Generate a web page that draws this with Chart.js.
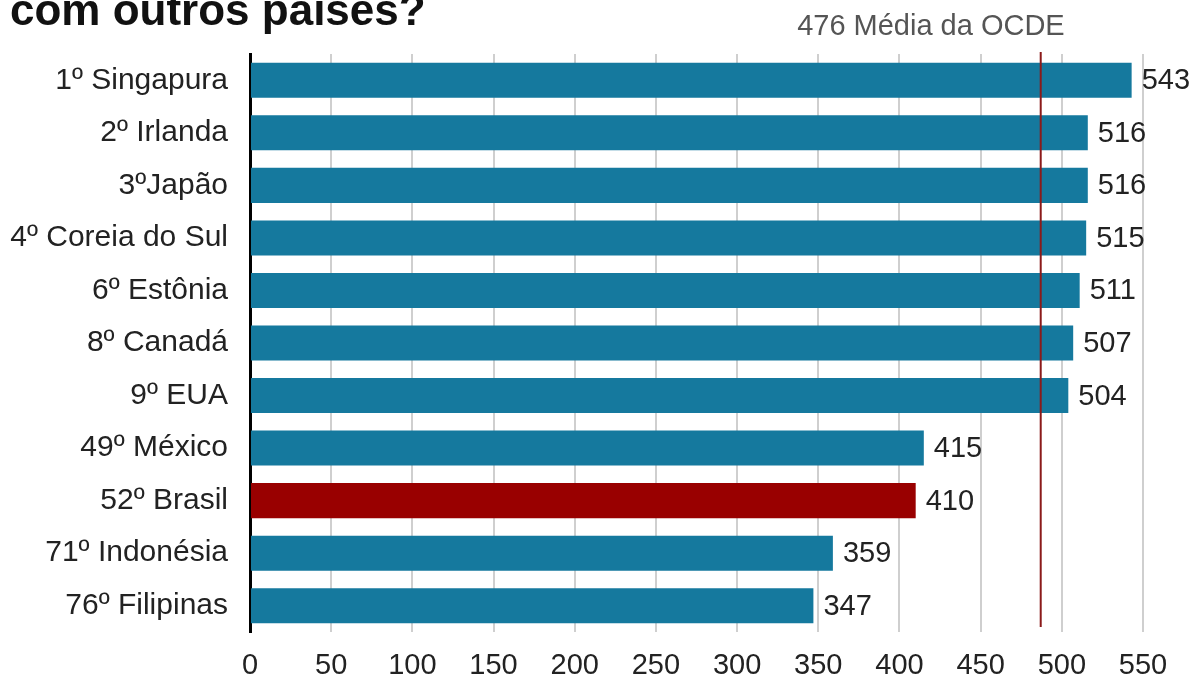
<!DOCTYPE html>
<html lang="pt">
<head>
    <meta charset="UTF-8">
    <title>PISA - comparação com outros países</title>
    <script src="https://cdn.jsdelivr.net/npm/chart.js"></script>
    <style>
        body { margin: 0; background: #fff; }
        #wrap { width: 1203px; height: 681px; }
    </style>
</head>
<body>
<div id="wrap">
    <canvas id="pisaChart" width="1203" height="681"></canvas>
</div>
<script>
    const paises = ["1º Singapura", "2º Irlanda", "3ºJapão", "4º Coreia do Sul", "6º Estônia",
        "8º Canadá", "9º EUA", "49º México", "52º Brasil", "71º Indonésia", "76º Filipinas"];
    const notas = [543, 516, 516, 515, 511, 507, 504, 415, 410, 359, 347];
    const ticksX = [0, 50, 100, 150, 200, 250, 300, 350, 400, 450, 500, 550];
    const mediaOcde = 476;
    // a linha da média aparece um pouco mais à direita no gráfico original
    const mediaOcdeLinha = 487;

    const azul = "#15799e";
    const vermelho = "#990000";
    const corBarras = paises.map(p => p.includes("Brasil") ? vermelho : azul);

    const extras = {
        id: "extras",
        afterDatasetsDraw(chart) {
            const ctx = chart.ctx;
            const area = chart.chartArea;
            const x = chart.scales.x;

            // linha da média
            const xl = x.getPixelForValue(mediaOcdeLinha);
            ctx.save();
            ctx.strokeStyle = "#8b1a1a";
            ctx.lineWidth = 2;
            ctx.beginPath();
            ctx.moveTo(xl, area.top - 2);
            ctx.lineTo(xl, area.bottom - 5);
            ctx.stroke();

            ctx.font = "29px Arial, 'Liberation Sans', sans-serif";
            ctx.fillStyle = "#555";
            ctx.textAlign = "right";
            ctx.textBaseline = "alphabetic";
            ctx.fillText(mediaOcde + " Média da OCDE", xl + 24, 35);

            // valores
            ctx.fillStyle = "#222";
            ctx.textAlign = "left";
            ctx.textBaseline = "middle";
            chart.getDatasetMeta(0).data.forEach((bar, i) => {
                ctx.fillText(notas[i], bar.x + 10, bar.y + 1);
            });

            // título
            ctx.font = "bold 44px Arial, 'Liberation Sans', sans-serif";
            ctx.fillStyle = "#111";
            ctx.textBaseline = "alphabetic";
            ctx.fillText("com outros países?", 10, 25);
            ctx.restore();
        }
    };

    new Chart(document.getElementById("pisaChart"), {
        type: "bar",
        data: {
            labels: paises,
            datasets: [{
                data: notas,
                backgroundColor: corBarras,
                categoryPercentage: 1,
                barPercentage: 0.667
            }]
        },
        options: {
            indexAxis: "y",
            responsive: false,
            animation: false,
            layout: { padding: { top: 54, right: 60, left: 0, bottom: 0 } },
            plugins: { legend: { display: false }, tooltip: { enabled: false } },
            scales: {
                x: {
                    min: 0,
                    max: 550,
                    afterFit: s => { s.height = 49; },
                    afterBuildTicks: s => { s.ticks = ticksX.map(v => ({ value: v })); },
                    grid: { color: "#cfcfcf", lineWidth: 2, drawTicks: false },
                    border: { display: false },
                    ticks: {
                        padding: 17,
                        color: "#222",
                        font: { family: "Arial, 'Liberation Sans', sans-serif", size: 29 }
                    }
                },
                y: {
                    afterFit: s => { s.width = 250; },
                    grid: { display: false, drawTicks: false },
                    border: { display: true, color: "#000", width: 3 },
                    ticks: {
                        padding: 22,
                        color: "#222",
                        font: { family: "Arial, 'Liberation Sans', sans-serif", size: 30 }
                    }
                }
            }
        },
        plugins: [extras]
    });
</script>
</body>
</html>
